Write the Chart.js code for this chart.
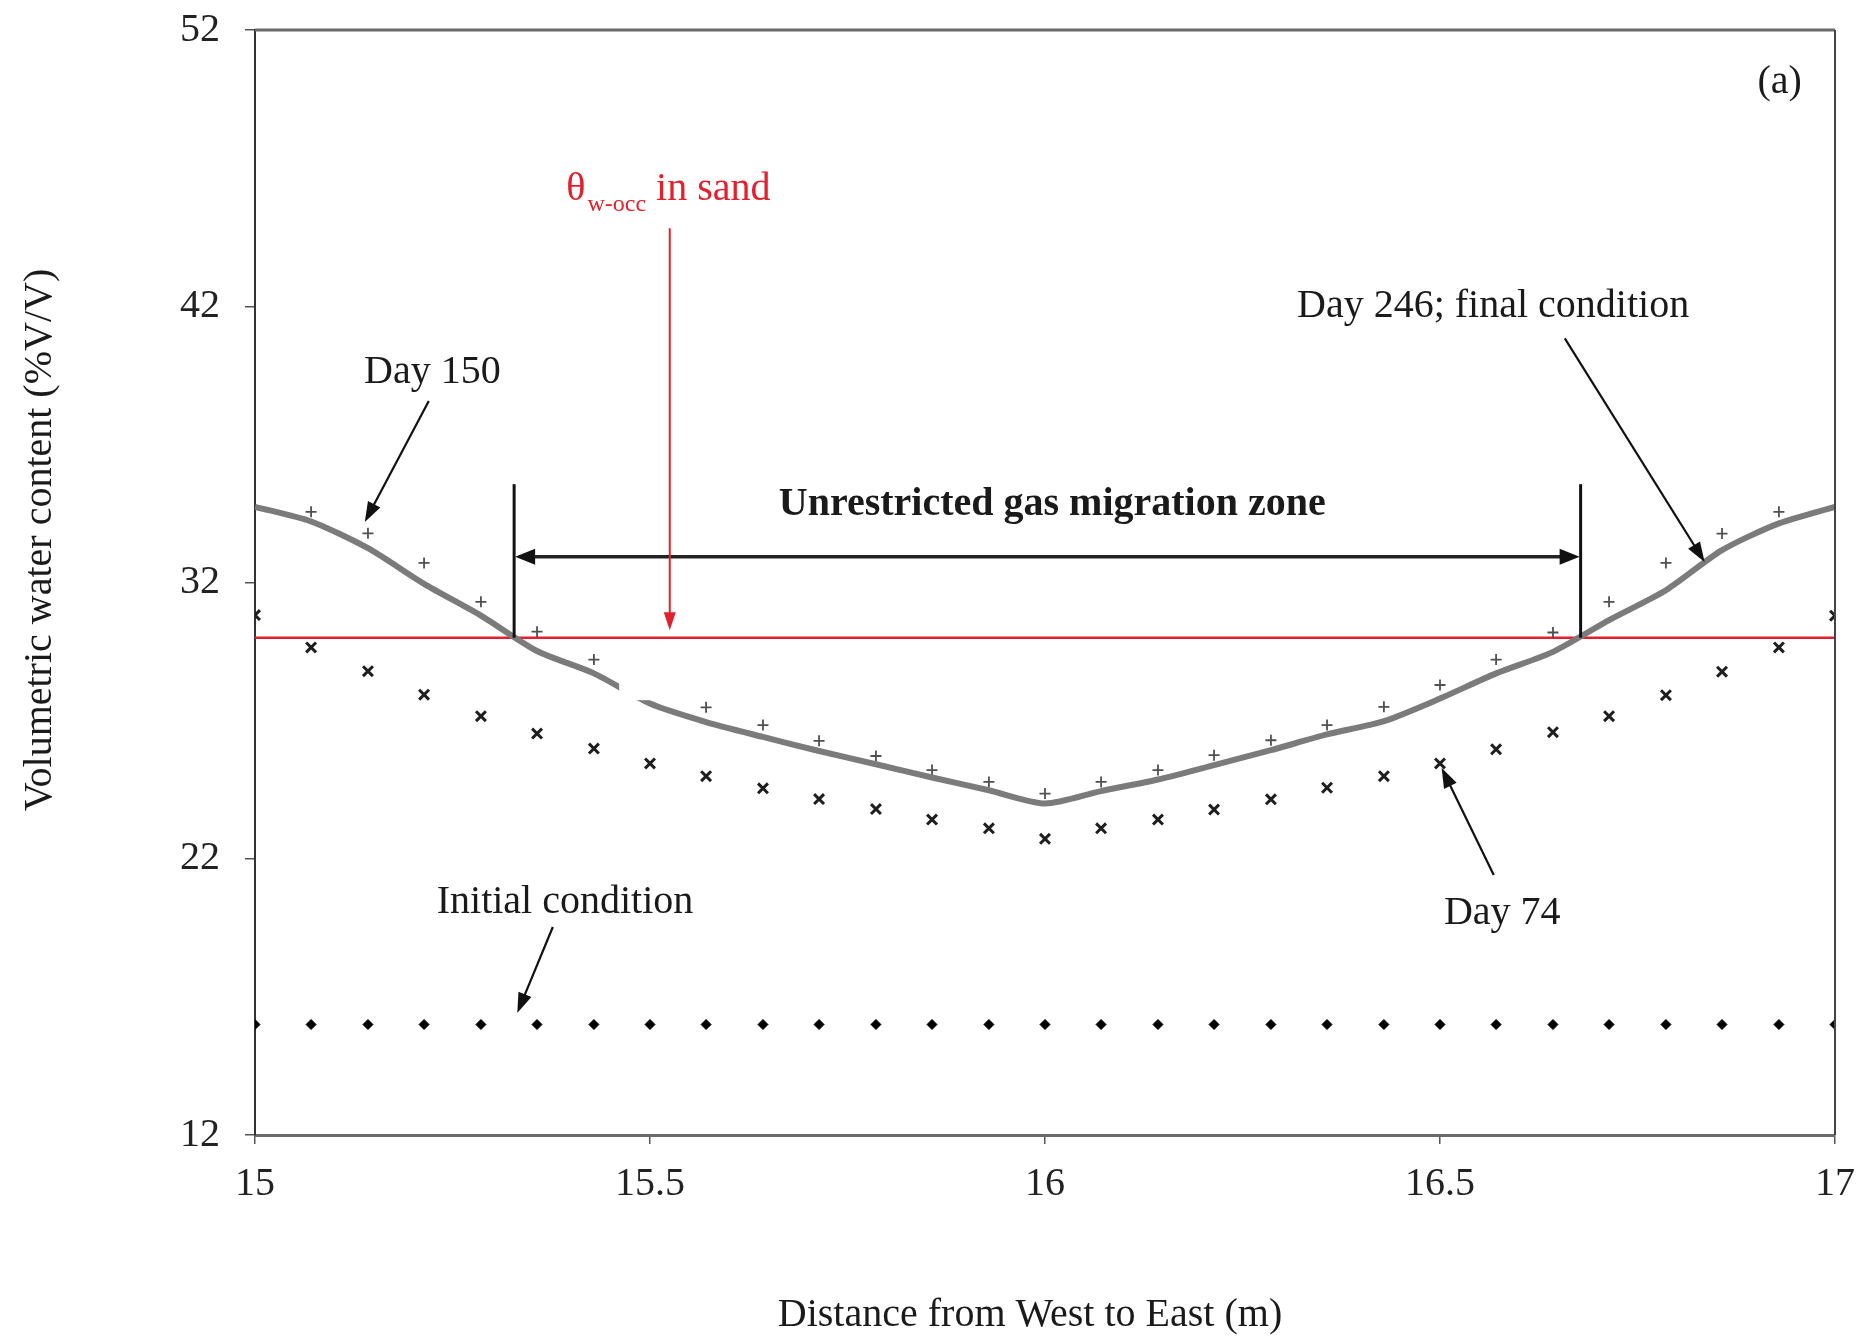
<!DOCTYPE html>
<html>
<head>
<meta charset="utf-8">
<script src="https://cdn.jsdelivr.net/npm/chart.js@4.4.1/dist/chart.umd.min.js"></script>
<style>
  html, body { margin: 0; padding: 0; background: #ffffff; }
  #wrap { width: 1860px; height: 1337px; }
</style>
</head>
<body>
<div id="wrap"><canvas id="chart" width="1860" height="1337"></canvas></div>
<script>
// Distance along the West-East profile (m)
const distance = [15.000, 15.071, 15.143, 15.214, 15.286, 15.357, 15.429, 15.500, 15.571, 15.643,
                  15.714, 15.786, 15.857, 15.929, 16.000, 16.071, 16.143, 16.214, 16.286, 16.357,
                  16.429, 16.500, 16.571, 16.643, 16.714, 16.786, 16.857, 16.929, 17.000];

// Volumetric water content (%V/V)
const initialCondition = [16, 16, 16, 16, 16, 16, 16, 16, 16, 16, 16, 16, 16, 16, 16,
                          16, 16, 16, 16, 16, 16, 16, 16, 16, 16, 16, 16, 16, 16];
const day74 = [30.82, 29.65, 28.79, 27.94, 27.16, 26.53, 25.99, 25.45, 24.99, 24.55,
               24.16, 23.80, 23.42, 23.10, 22.72, 23.10, 23.42, 23.78, 24.15, 24.57,
               24.99, 25.45, 25.96, 26.58, 27.16, 27.92, 28.77, 29.65, 30.80];
const day150 = [null, 34.56, 33.78, 32.71, 31.30, 30.22, 29.21, 28.35, 27.48, 26.84,
                26.27, 25.72, 25.21, 24.78, 24.36, 24.78, 25.21, 25.75, 26.29, 26.84,
                27.50, 28.29, 29.21, 30.19, 31.30, 32.71, 33.77, 34.56, null];
const day246 = [34.74, 34.21, 33.24, 31.95, 30.80, 29.52, 28.71, 27.62, 26.95, 26.41,
                25.90, 25.42, 24.94, 24.48, 24.00, 24.45, 24.87, 25.39, 25.93, 26.50,
                26.98, 27.80, 28.71, 29.49, 30.64, 31.72, 33.17, 34.14, 34.74];

// Occlusion water content of the sand and the zone where day-246 values fall below it
const thetaOcc = 30;
const zoneBounds = [15.328, 16.678];

// Axis ticks
const xTicks = [15, 15.5, 16, 16.5, 17];
const yTicks = [12, 22, 32, 42, 52];

const SERIF = '"Liberation Serif", "Times New Roman", serif';
const INK = '#1a1a1a';
const RED = '#e3202b';

const pts = vals => distance.map((d, i) => ({ x: d, y: vals[i] }));

function arrowHead(ctx, x1, y1, x2, y2, len, half) {
  const a = Math.atan2(y2 - y1, x2 - x1);
  ctx.beginPath();
  ctx.moveTo(x2, y2);
  ctx.lineTo(x2 - len * Math.cos(a) + half * Math.sin(a), y2 - len * Math.sin(a) - half * Math.cos(a));
  ctx.lineTo(x2 - len * Math.cos(a) - half * Math.sin(a), y2 - len * Math.sin(a) + half * Math.cos(a));
  ctx.closePath();
  ctx.fill();
}

function arrow(ctx, x1, y1, x2, y2, color, width, len, half) {
  const a = Math.atan2(y2 - y1, x2 - x1);
  ctx.strokeStyle = color;
  ctx.fillStyle = color;
  ctx.lineWidth = width;
  ctx.beginPath();
  ctx.moveTo(x1, y1);
  ctx.lineTo(x2 - (len * 0.8) * Math.cos(a), y2 - (len * 0.8) * Math.sin(a));
  ctx.stroke();
  arrowHead(ctx, x1, y1, x2, y2, len, half);
}

// keep tick labels from pushing the plot area inwards
function noLabelPadding(s) {
  s.paddingTop = 0;
  s.paddingBottom = 0;
  s.paddingLeft = 0;
  s.paddingRight = 0;
}

const annotate = {
  id: 'annotate',
  afterDatasetsDraw(chart) {
    const { ctx, chartArea: a, scales } = chart;
    const X = v => scales.x.getPixelForValue(v);
    const Y = v => scales.y.getPixelForValue(v);
    ctx.save();

    // blank backing box on the left slope
    ctx.fillStyle = '#ffffff';
    ctx.fillRect(X(15.461), Y(28.76), X(15.563) - X(15.461), Y(27.74) - Y(28.76));

    // top and right frame
    ctx.lineCap = 'butt';
    ctx.strokeStyle = '#6a6a6a';
    ctx.lineWidth = 3;
    ctx.beginPath(); ctx.moveTo(a.left, a.top); ctx.lineTo(a.right, a.top); ctx.stroke();
    ctx.strokeStyle = '#444';
    ctx.lineWidth = 2;
    ctx.beginPath(); ctx.moveTo(a.right, a.top); ctx.lineTo(a.right, a.bottom); ctx.stroke();

    // zone limits and double arrow
    ctx.strokeStyle = '#111';
    ctx.lineWidth = 3;
    zoneBounds.forEach(b => {
      ctx.beginPath(); ctx.moveTo(X(b), Y(35.56)); ctx.lineTo(X(b), Y(thetaOcc)); ctx.stroke();
    });
    const ay = Y(32.93);
    ctx.strokeStyle = '#222';
    ctx.fillStyle = '#111';
    ctx.lineWidth = 3.5;
    ctx.beginPath(); ctx.moveTo(X(zoneBounds[0]) + 16, ay); ctx.lineTo(X(zoneBounds[1]) - 16, ay); ctx.stroke();
    arrowHead(ctx, X(zoneBounds[1]), ay, X(zoneBounds[0]) + 1, ay, 20, 8);
    arrowHead(ctx, X(zoneBounds[0]), ay, X(zoneBounds[1]) - 1, ay, 20, 8);

    // red pointer to the threshold line
    arrow(ctx, X(15.525), Y(44.82), X(15.525), Y(30.27), RED, 2, 18, 6);

    // callout arrows
    arrow(ctx, X(15.220), Y(38.57), X(15.139), Y(34.19), '#111', 2.2, 20, 7);
    arrow(ctx, X(16.658), Y(40.84), X(16.835), Y(32.74), '#111', 2.2, 20, 7);
    arrow(ctx, X(16.568), Y(21.41), X(16.502), Y(25.29), '#111', 2.2, 20, 7);
    arrow(ctx, X(15.377), Y(19.53), X(15.332), Y(16.42), '#111', 2.2, 20, 7);

    // labels
    ctx.fillStyle = INK;
    ctx.textBaseline = 'alphabetic';
    ctx.textAlign = 'left';
    ctx.font = `40px ${SERIF}`;
    ctx.fillText('Day 150', X(15.138), Y(39.21));
    ctx.fillText('Day 246; final condition', X(16.319), Y(41.60));
    ctx.fillText('Initial condition', X(15.230), Y(20.04));
    ctx.fillText('Day 74', X(16.505), Y(19.64));
    ctx.textAlign = 'right';
    ctx.fillText('(a)', X(16.958), Y(49.71));
    ctx.textAlign = 'left';
    ctx.font = `bold 40px ${SERIF}`;
    ctx.fillText('Unrestricted gas migration zone', X(15.663), Y(34.44));

    // θw-occ in sand
    ctx.fillStyle = RED;
    let tx = X(15.394);
    const ty = Y(45.83);
    ctx.font = `40px ${SERIF}`;
    ctx.fillText('\u03B8', tx, ty);
    tx += ctx.measureText('\u03B8').width + 2;
    ctx.font = `24px ${SERIF}`;
    ctx.fillText('w-occ', tx, ty + 11);
    tx += ctx.measureText('w-occ').width;
    ctx.font = `40px ${SERIF}`;
    ctx.fillText(' in sand', tx, ty);

    ctx.restore();
  },
  afterDraw(chart) {
    const { ctx } = chart;
    ctx.save();
    ctx.fillStyle = INK;
    ctx.font = `40px ${SERIF}`;
    ctx.textAlign = 'center';
    ctx.textBaseline = 'alphabetic';
    ctx.fillText('Distance from West to East (m)', 1030, 1326);
    ctx.translate(51, 540);
    ctx.rotate(-Math.PI / 2);
    ctx.fillText('Volumetric water content (%V/V)', 0, 0);
    ctx.restore();
  }
};

new Chart(document.getElementById('chart'), {
  type: 'scatter',
  data: {
    datasets: [
      {
        label: 'Day 246; final condition',
        data: pts(day246),
        showLine: true,
        borderColor: '#7b7b7b',
        borderWidth: 6,
        pointRadius: 0,
        tension: 0.25,
        borderCapStyle: 'butt'
      },
      {
        label: 'Day 150',
        data: pts(day150),
        pointStyle: 'cross',
        pointRadius: 5.5,
        borderColor: '#505050',
        borderWidth: 1.8,
        showLine: false
      },
      {
        label: 'Day 74',
        data: pts(day74),
        pointStyle: 'crossRot',
        pointRadius: 7,
        borderColor: '#1e1e1e',
        borderWidth: 3,
        showLine: false
      },
      {
        label: 'Initial condition',
        data: pts(initialCondition),
        pointStyle: 'rectRot',
        pointRadius: 5,
        backgroundColor: '#000',
        borderColor: '#000',
        borderWidth: 1,
        showLine: false
      },
      {
        label: '\u03B8w-occ in sand',
        data: [{ x: 15, y: thetaOcc }, { x: 17, y: thetaOcc }],
        showLine: true,
        borderColor: RED,
        borderWidth: 2.5,
        pointRadius: 0
      }
    ]
  },
  options: {
    responsive: false,
    devicePixelRatio: 1,
    animation: false,
    layout: { padding: { top: 30, right: 25, left: 0, bottom: 0 } },
    plugins: {
      legend: { display: false },
      tooltip: { enabled: false }
    },
    scales: {
      x: {
        type: 'linear',
        min: 15,
        max: 17,
        afterBuildTicks: s => { s.ticks = xTicks.map(v => ({ value: v })); },
        afterFit: s => { s.height = 202; noLabelPadding(s); },
        border: { display: true, color: '#6a6a6a', width: 3 },
        grid: { drawOnChartArea: false, drawTicks: true, tickLength: 9, color: '#555', lineWidth: 1.5 },
        ticks: {
          autoSkip: false,
          maxRotation: 0,
          padding: 16,
          color: '#222',
          font: { family: SERIF, size: 40 },
          callback: v => String(v)
        }
      },
      y: {
        type: 'linear',
        min: 12,
        max: 52,
        afterBuildTicks: s => { s.ticks = yTicks.map(v => ({ value: v })); },
        afterFit: s => { s.width = 255; noLabelPadding(s); },
        border: { display: true, color: '#333', width: 2 },
        grid: { drawOnChartArea: false, drawTicks: true, tickLength: 10, color: '#555', lineWidth: 1.5 },
        ticks: {
          padding: 25,
          color: '#222',
          font: { family: SERIF, size: 40 },
          callback: v => String(v)
        }
      }
    }
  },
  plugins: [annotate]
});
</script>
</body>
</html>
